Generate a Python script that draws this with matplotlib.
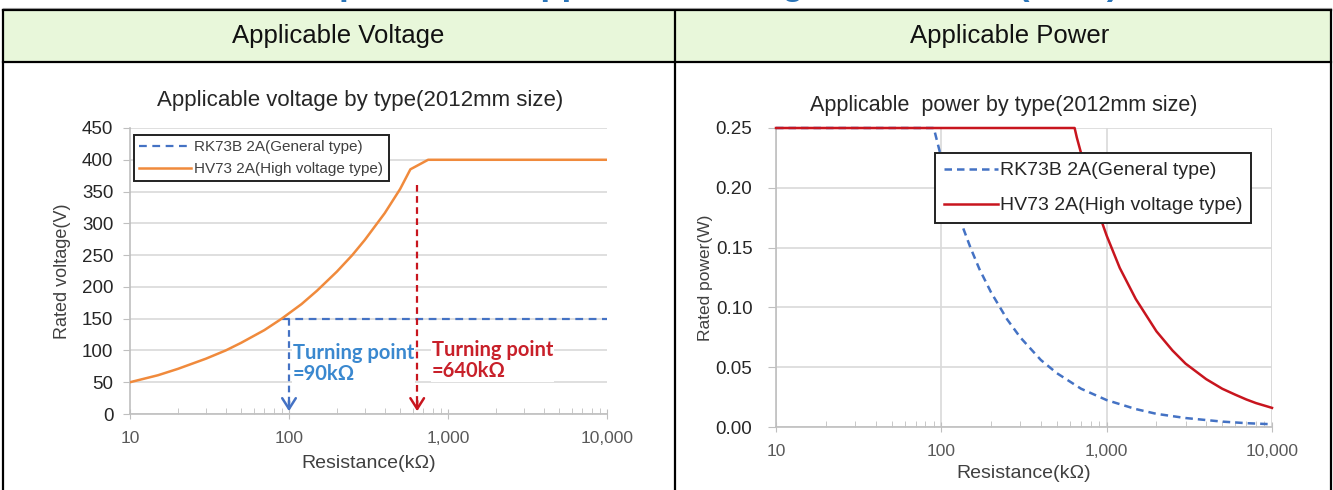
import matplotlib

matplotlib.use("Agg")
import matplotlib.pyplot as plt
from matplotlib.patches import Rectangle
from matplotlib.lines import Line2D
from matplotlib.ticker import LogLocator, NullFormatter

plt.rcParams["font.family"] = ["Liberation Sans", "DejaVu Sans"]

# ---- data ----
x_ticks = [10, 100, 1000, 10000]
x_tick_labels = ["10", "100", "1,000", "10,000"]
series_names = ["RK73B 2A(General type)", "HV73 2A(High voltage type)"]

# Applicable voltage (V) vs resistance (kOhm)
volt_rk_r = [90, 10000]
volt_rk_v = [150, 150]
volt_hv_r = [10, 15, 20, 30, 40, 50, 70, 90, 120, 150, 200, 250, 300, 400, 500, 580, 750, 10000]
volt_hv_v = [50, 61, 71, 87, 100, 112, 132, 150, 173, 194, 224, 250, 274, 316, 354, 385, 400, 400]
volt_yticks = [0, 50, 100, 150, 200, 250, 300, 350, 400, 450]

turn_rk = 100      # where the blue arrow sits
turn_rk_v = 150
turn_hv = 640
turn_hv_v = 360
turn_rk_text = "Turning point\n=90k\u03a9"
turn_hv_text = "Turning point\n=640k\u03a9"

# Applicable power (W) vs resistance (kOhm)
pow_rk_r = [10, 90, 100, 110, 130, 150, 170, 200, 250, 300, 400, 500, 700, 1000, 1500, 2000,
            3000, 5000, 7000, 10000]
pow_rk_p = [0.25, 0.25, 0.225, 0.205, 0.173, 0.15, 0.132, 0.1125, 0.09, 0.075, 0.056, 0.045,
            0.032, 0.0225, 0.015, 0.011, 0.0075, 0.0045, 0.0032, 0.0023]
pow_hv_r = [10, 640, 660, 700, 750, 800, 900, 1000, 1200, 1500, 2000, 2500, 3000, 4000, 5000,
            6000, 7000, 8000, 10000]
pow_hv_p = [0.25, 0.25, 0.242, 0.229, 0.213, 0.2, 0.178, 0.16, 0.133, 0.107, 0.08, 0.064,
            0.053, 0.04, 0.032, 0.027, 0.023, 0.02, 0.016]
pow_yticks = [0.0, 0.05, 0.10, 0.15, 0.20, 0.25]

BLUE = "#4472C4"
ORANGE = "#F08A3C"
RED = "#C8151E"
GRID = "#D9D9D9"
AXIS = "#BFBFBF"
TICK_TXT = "#595959"
TXT = "#404040"

W, H = 1333, 490
fig = plt.figure(figsize=(W / 100, H / 100), dpi=100)


def fx(px):
    return px / W


def fy(py):
    return 1 - py / H


# ---- table frame / header ----
fig.patches.append(Rectangle((fx(3), fy(62)), fx(1331) - fx(3), fy(10) - fy(62),
                             transform=fig.transFigure, facecolor="#E8F7DA", edgecolor="none"))
for (x0, y0, x1, y1) in [(3, 10, 1331, 10), (3, 62, 1331, 62), (3, 10, 3, 490),
                         (675, 10, 675, 490), (1331, 10, 1331, 490)]:
    fig.add_artist(Line2D([fx(x0), fx(x1)], [fy(y0), fy(y1)], transform=fig.transFigure,
                          color="black", lw=1.6))
fig.add_artist(Line2D([fx(3), fx(1331)], [fy(8), fy(8)], transform=fig.transFigure,
                      color="#9A9A9A", lw=0.8))
fig.text(fx(338), fy(36), "Applicable Voltage", ha="center", va="center", fontsize=18.5, color="#111111")
fig.text(fx(1010), fy(36), "Applicable Power", ha="center", va="center", fontsize=18.5, color="#111111")

# headline above the table, mostly cut off by the top edge
fig.text(fx(690), fy(-5), "Comparison of Applicable Voltage and Power (2012)", ha="center",
         va="baseline", fontsize=25, fontweight="bold", color="#2A74B8")


def style_axis(ax):
    ax.set_xscale("log")
    ax.set_xlim(10, 10000)
    ax.set_xticks(x_ticks)
    ax.set_xticklabels(x_tick_labels)
    ax.xaxis.set_minor_locator(LogLocator(base=10, subs=range(2, 10)))
    ax.xaxis.set_minor_formatter(NullFormatter())
    for s in ["top", "right"]:
        ax.spines[s].set_visible(False)
    for s in ["left", "bottom"]:
        ax.spines[s].set_color(AXIS)
        ax.spines[s].set_linewidth(1.2)
    ax.tick_params(axis="x", which="major", direction="inout", length=7, color=AXIS,
                   labelcolor=TICK_TXT, labelsize=12.5, pad=9)
    ax.tick_params(axis="x", which="minor", direction="in", length=4, color=AXIS)
    ax.tick_params(axis="y", which="major", direction="out", length=5, color=AXIS,
                   labelcolor="#262626", labelsize=13.5)
    ax.grid(axis="y", color=GRID, lw=1.2)
    ax.set_axisbelow(True)


# ---- left: applicable voltage ----
ax1 = fig.add_axes([fx(130), fy(414), fx(607) - fx(130), fy(128) - fy(414)])
style_axis(ax1)
ax1.set_ylim(0, 450)
ax1.set_yticks(volt_yticks)
ax1.tick_params(axis="y", pad=7)

ax1.plot(volt_rk_r, volt_rk_v, color=BLUE, lw=1.6, ls=(0, (3.5, 2.5)), label=series_names[0], zorder=3)
ax1.plot(volt_hv_r, volt_hv_v, color=ORANGE, lw=1.8, label=series_names[1], zorder=4)

for xr, ytop, col in [(turn_rk, turn_rk_v, BLUE), (turn_hv, turn_hv_v, RED)]:
    ax1.plot([xr, xr], [ytop, 12], color=col, lw=1.6, ls=(0, (3, 2)), zorder=5)
    ax1.annotate("", xy=(xr, 0), xytext=(xr, 25),
                 arrowprops=dict(arrowstyle="->,head_width=0.35,head_length=0.55",
                                 color=col, lw=1.8, mutation_scale=14), zorder=6)

ax1.text(106, 112, turn_rk_text, color="#3A88CF", fontsize=14.5, fontweight="bold",
         family=["Lato", "DejaVu Sans"], va="top", ha="left", linespacing=1.05,
         bbox=dict(facecolor="white", edgecolor="none", pad=0.5), zorder=4)
ax1.text(790, 116, turn_hv_text, color="#C8202A", fontsize=14.5, fontweight="bold",
         family=["Lato", "DejaVu Sans"], va="top", ha="left", linespacing=1.05,
         bbox=dict(facecolor="white", edgecolor="none", pad=0.5), zorder=4)

ax1.set_title("Applicable voltage by type(2012mm size)", fontsize=16, color="#262626", pad=16, x=0.482)
ax1.set_xlabel("Resistance(k\u03a9)", fontsize=14, color=TXT, labelpad=6)
ax1.set_ylabel("Rated voltage(V)", fontsize=13, color=TXT, labelpad=8)
leg1 = ax1.legend(loc="upper left", bbox_to_anchor=(fx(134), fy(135)), bbox_transform=fig.transFigure,
                  fontsize=11, handlelength=3.4, frameon=True, fancybox=False, framealpha=1,
                  borderpad=0.35, labelspacing=0.5, handletextpad=0.2, borderaxespad=0)
leg1.get_frame().set_edgecolor("#222222")
leg1.get_frame().set_linewidth(1.4)
for t in leg1.get_texts():
    t.set_color(TXT)

# ---- right: applicable power ----
ax2 = fig.add_axes([fx(776), fy(427), fx(1272) - fx(776), fy(128) - fy(427)])
style_axis(ax2)
ax2.set_ylim(0, 0.25)
ax2.set_yticks(pow_yticks)
ax2.set_yticklabels([f"{v:.2f}" for v in pow_yticks])
ax2.tick_params(axis="y", length=6, pad=11)
ax2.grid(axis="x", which="major", color=GRID, lw=1.2)
ax2.axvline(10000, color=GRID, lw=1.2, zorder=0)

ax2.plot(pow_rk_r, pow_rk_p, color=BLUE, lw=1.8, ls=(0, (3, 2)), label=series_names[0],
         zorder=3, clip_on=False)
ax2.plot(pow_hv_r, pow_hv_p, color=RED, lw=1.8, label=series_names[1], zorder=4, clip_on=False)

ax2.set_title("Applicable  power by type(2012mm size)", fontsize=15.5, color="#262626", pad=12, x=0.46)
ax2.set_xlabel("Resistance(k\u03a9)", fontsize=14, color=TXT, labelpad=4)
ax2.set_ylabel("Rated power(W)", fontsize=12.5, color=TXT, labelpad=2)
leg2 = ax2.legend(loc="upper left", bbox_to_anchor=(fx(935), fy(153)), bbox_transform=fig.transFigure,
                  fontsize=14, handlelength=2.8, frameon=True, fancybox=False, framealpha=1,
                  borderpad=0.45, labelspacing=0.9, handletextpad=0.1, borderaxespad=0)
leg2.get_frame().set_edgecolor("#222222")
leg2.get_frame().set_linewidth(1.4)
for t in leg2.get_texts():
    t.set_color("#262626")

fig.savefig("out.png", dpi=100)
plt.close(fig)
